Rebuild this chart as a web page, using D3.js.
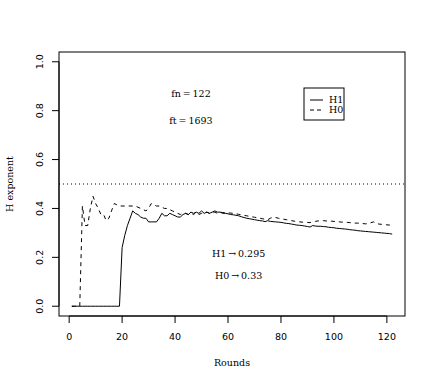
<!DOCTYPE html>
<html>
<head>
<meta charset="utf-8">
<script src="https://cdn.jsdelivr.net/npm/d3@7"></script>
<style>
  body { margin: 0; background: #fff; }
  .tick-lbl { font: 9.5px "DejaVu Sans", sans-serif; }
  .lbl { font: 9.5px "DejaVu Serif", serif; }
</style>
</head>
<body>
<svg id="chart" width="436" height="382"></svg>
<script>
// H exponent per round, solid line (H1)
var h1 = [0,0,0,0,0,0,0,0,0,0, 0,0,0,0,0,0,0,0,0,0.24,
  0.29,0.33,0.36,0.39,0.38,0.375,0.365,0.36,0.36,0.345,
  0.345,0.345,0.345,0.36,0.38,0.37,0.37,0.38,0.375,0.37,
  0.365,0.365,0.375,0.38,0.375,0.385,0.38,0.385,0.38,0.39,
  0.38,0.385,0.38,0.385,0.39,0.385,0.385,0.38,0.38,0.378,
  0.375,0.374,0.372,0.37,0.366,0.363,0.36,0.358,0.356,0.354,
  0.352,0.35,0.349,0.346,0.35,0.347,0.346,0.345,0.344,0.343,
  0.341,0.339,0.338,0.336,0.334,0.332,0.331,0.33,0.328,0.326,
  0.324,0.33,0.328,0.327,0.327,0.326,0.325,0.323,0.322,0.321,
  0.319,0.318,0.317,0.316,0.315,0.313,0.312,0.311,0.309,0.308,
  0.307,0.306,0.305,0.304,0.303,0.302,0.301,0.3,0.299,0.298,
  0.297,0.295];
// dashed line (H0)
var h0 = [0,0,0,0,0.41,0.33,0.33,0.4,0.45,0.42,
  0.4,0.375,0.375,0.35,0.36,0.39,0.42,0.415,0.41,0.41,
  0.41,0.41,0.41,0.41,0.41,0.405,0.4,0.395,0.39,0.4,
  0.42,0.415,0.41,0.41,0.405,0.4,0.4,0.395,0.39,0.385,
  0.38,0.375,0.38,0.38,0.375,0.38,0.375,0.385,0.375,0.38,
  0.38,0.385,0.38,0.38,0.385,0.38,0.385,0.383,0.383,0.382,
  0.381,0.38,0.378,0.376,0.374,0.372,0.37,0.368,0.366,0.364,
  0.362,0.36,0.358,0.356,0.354,0.36,0.364,0.363,0.36,0.358,
  0.356,0.354,0.352,0.35,0.348,0.346,0.345,0.344,0.343,0.343,
  0.342,0.345,0.347,0.349,0.35,0.35,0.349,0.348,0.348,0.347,
  0.346,0.345,0.344,0.344,0.343,0.342,0.341,0.34,0.34,0.339,
  0.338,0.337,0.338,0.342,0.345,0.34,0.336,0.335,0.334,0.333,
  0.332,0.33];
var xTicks = [0, 20, 40, 60, 80, 100, 120];
var yTicks = [0, 0.2, 0.4, 0.6, 0.8, 1.0];
var seriesNames = ["H1", "H0"];

var svg = d3.select("#chart");
var pl = 59, pr = 405, pt = 52, pb = 316;

svg.append("rect").attr("width", 436).attr("height", 382).attr("fill", "white");

var x = d3.scaleLinear().domain([-3.84, 126.84]).range([pl, pr]);
var y = d3.scaleLinear().domain([-0.04, 1.04]).range([pb, pt]);

// axes
var xAxis = svg.append("g").attr("transform", "translate(0," + pb + ")");
xAxis.append("line")
  .attr("x1", x(0)).attr("x2", x(120))
  .attr("stroke", "black");
xAxis.selectAll(".t").data(xTicks).enter().append("line")
  .attr("x1", d => x(d)).attr("x2", d => x(d))
  .attr("y1", 0).attr("y2", 7)
  .attr("stroke", "black");
xAxis.selectAll("text").data(xTicks).enter().append("text")
  .attr("class", "tick-lbl")
  .attr("x", d => x(d)).attr("y", 24)
  .attr("text-anchor", "middle")
  .text(d => d);

var yAxis = svg.append("g").attr("transform", "translate(" + pl + ",0)");
yAxis.append("line")
  .attr("y1", y(0)).attr("y2", y(1))
  .attr("stroke", "black");
yAxis.selectAll(".t").data(yTicks).enter().append("line")
  .attr("y1", d => y(d)).attr("y2", d => y(d))
  .attr("x1", 0).attr("x2", -7)
  .attr("stroke", "black");
yAxis.selectAll("text").data(yTicks).enter().append("text")
  .attr("class", "tick-lbl")
  .attr("transform", d => "translate(-16," + y(d) + ") rotate(-90)")
  .attr("text-anchor", "middle")
  .text(d => d.toFixed(1));

svg.append("rect")
  .attr("x", pl).attr("y", pt)
  .attr("width", pr - pl).attr("height", pb - pt)
  .attr("fill", "none").attr("stroke", "black");

svg.append("text").attr("class", "lbl")
  .attr("x", (pl + pr) / 2).attr("y", 366)
  .attr("text-anchor", "middle")
  .text("Rounds");
svg.append("text").attr("class", "lbl")
  .attr("transform", "translate(13," + (pt + pb) / 2 + ") rotate(-90)")
  .attr("text-anchor", "middle")
  .text("H exponent");

// reference line at 0.5
svg.append("line")
  .attr("x1", pl).attr("x2", pr)
  .attr("y1", y(0.5)).attr("y2", y(0.5))
  .attr("stroke", "black").attr("stroke-dasharray", "1,3");

var line = d3.line().x((d, i) => x(i + 1)).y(d => y(d));

svg.append("path").datum(h1)
  .attr("d", line)
  .attr("fill", "none").attr("stroke", "black").attr("stroke-width", 1);
svg.append("path").datum(h0)
  .attr("d", line)
  .attr("fill", "none").attr("stroke", "black").attr("stroke-width", 1)
  .attr("stroke-dasharray", "4,4");

// annotations
function note(t, dx, dy) {
  svg.append("text").attr("class", "lbl")
    .attr("x", x(dx)).attr("y", y(dy))
    .attr("dy", "0.35em")
    .attr("text-anchor", "middle")
    .text(t);
}
note("fn\u2009=\u2009122", 46, 0.87);
note("ft\u2009=\u20091693", 46, 0.76);
note("H1\u2009\u2192\u20090.295", 64, 0.215);
note("H0\u2009\u2192\u20090.33", 64, 0.125);

// legend
var lg = svg.append("g").attr("transform", "translate(304,88)");
lg.append("rect").attr("width", 40).attr("height", 32)
  .attr("fill", "white").attr("stroke", "black");
lg.selectAll(".s").data(seriesNames).enter().append("line")
  .attr("x1", 6).attr("x2", 19)
  .attr("y1", (d, i) => 12 + i * 10).attr("y2", (d, i) => 12 + i * 10)
  .attr("stroke", "black")
  .attr("stroke-dasharray", (d, i) => i ? "4,3" : null);
lg.selectAll("text").data(seriesNames).enter().append("text")
  .attr("class", "lbl")
  .attr("x", 25).attr("y", (d, i) => 12 + i * 10)
  .attr("dy", "0.35em")
  .text(d => d);
</script>
</body>
</html>
